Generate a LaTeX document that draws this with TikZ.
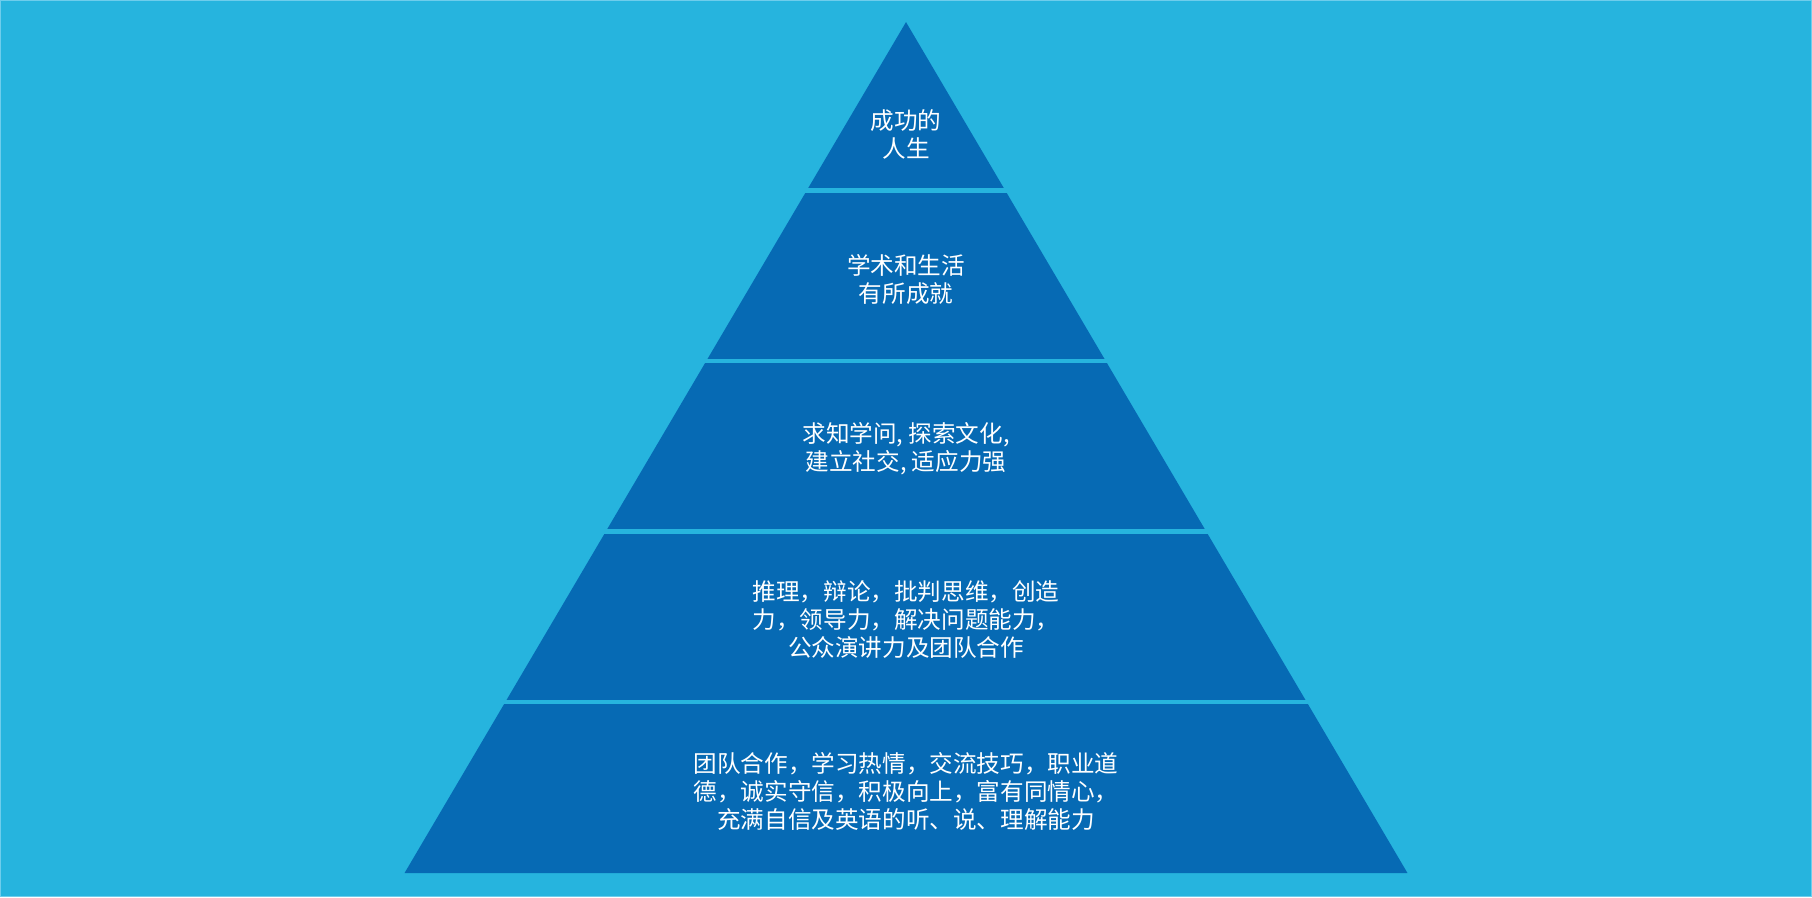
\documentclass[tikz,border=0pt]{standalone}
\usepackage{fontspec}
\newfontfamily\cjk{Noto Sans CJK SC}
\definecolor{bgblue}{RGB}{38,180,222}
\definecolor{pyrblue}{RGB}{6,106,180}
\definecolor{edgeblue}{RGB}{110,205,236}
\tikzset{
  layertext/.style={text=white, align=center, inner sep=0pt,
    font=\cjk\fontsize{11.8pt}{14pt}\selectfont},
  gapline/.style={draw=bgblue, line width=2.2pt}
}
\begin{document}
\begin{tikzpicture}[x=0.5pt,y=-0.5pt]
\fill[bgblue] (0,0) rectangle (1812,897);
\draw[edgeblue, line width=0.6pt] (0.5,0.5) rectangle (1811.5,896.5);
\useasboundingbox (0,0) rectangle (1812,897);
% pyramid
\coordinate (apex) at (906,22);
\coordinate (bl) at (404.5,873);
\coordinate (br) at (1407.5,873);
\fill[pyrblue] (apex) -- (br) -- (bl) -- cycle;
% gaps
\coordinate (g1l) at (680,190.5); \coordinate (g1r) at (1132,190.5);
\coordinate (g2l) at (580,361); \coordinate (g2r) at (1232,361);
\coordinate (g3l) at (480,531.5); \coordinate (g3r) at (1332,531.5);
\coordinate (g4l) at (380,702); \coordinate (g4r) at (1432,702);
\draw[gapline] (g1l) -- (g1r);
\draw[gapline] (g2l) -- (g2r);
\draw[gapline] (g3l) -- (g3r);
\draw[gapline] (g4l) -- (g4r);
% texts
\node[layertext] (t1) at (906,134) {成功的\\人生};
\node[layertext] (t2) at (906,279) {学术和生活\\有所成就};
\node[layertext] (t3) at (906,449) {求知学问, 探索文化,\\建立社交, 适应力强};
\node[layertext] (t4) at (906,619.5) {推理，辩论，批判思维，创造\\力，领导力，解决问题能力，\\公众演讲力及团队合作};
\node[layertext] (t5) at (906,791) {团队合作，学习热情，交流技巧，职业道\\德，诚实守信，积极向上，富有同情心，\\充满自信及英语的听、说、理解能力};
\end{tikzpicture}
\end{document}
